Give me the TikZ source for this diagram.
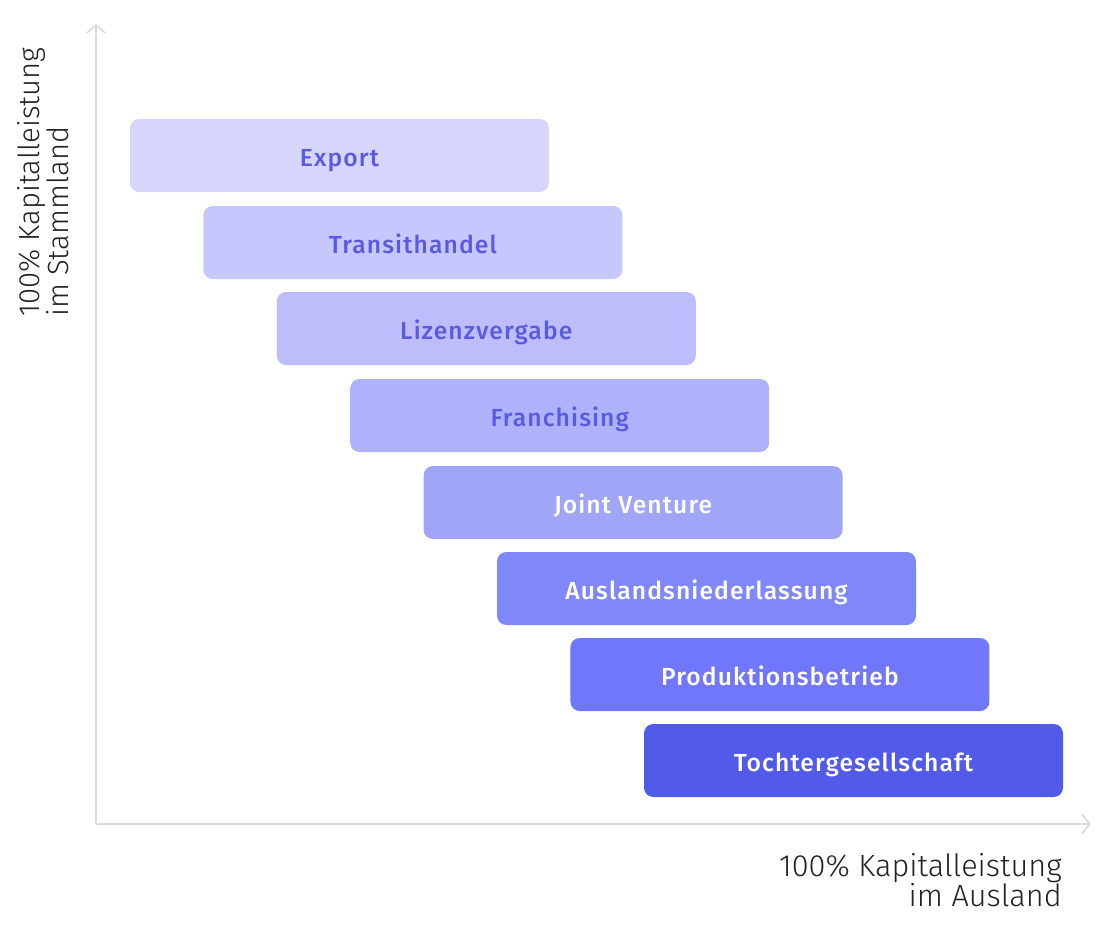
\documentclass[tikz,border=0pt]{standalone}
\usepackage{fontspec}
\setmainfont{Fira Sans Light}
\newfontfamily\boxfont[LetterSpace=4.5]{Fira Sans Medium}
\usetikzlibrary{arrows.meta}
\definecolor{axisgray}{HTML}{DADADA}
\definecolor{labeldark}{HTML}{222222}
\definecolor{txtpurple}{HTML}{5B5BE2}
\definecolor{cA}{HTML}{D6D5FC}
\definecolor{cB}{HTML}{C6C7FC}
\definecolor{cC}{HTML}{BCBDFA}
\definecolor{cD}{HTML}{AEB2FA}
\definecolor{cE}{HTML}{A0A5F8}
\definecolor{cF}{HTML}{8088F8}
\definecolor{cG}{HTML}{7077FA}
\definecolor{cH}{HTML}{525AE8}
\tikzset{
  stage/.style={rounded corners=7pt, minimum width=314.25pt, minimum height=54.75pt,
    inner sep=0pt, text height=16.5pt, text depth=0pt,
    font=\boxfont\fontsize{18.5}{22}\selectfont},
  light/.style={stage, text=txtpurple},
  dark/.style={stage, text=white},
  axis/.style={draw=axisgray, line width=1.5pt, -{Straight Barb[length=6pt,width=14pt,line width=1.2pt]}},
  axlabel/.style={inner sep=0pt, text=labeldark},
  xlabfont/.style={font=\fontsize{23}{22.5}\selectfont},
  ylabfont/.style={font=\fontsize{21.9}{19.8}\selectfont}
}
\begin{document}
\begin{tikzpicture}[x=0.75pt,y=-0.75pt]
\useasboundingbox (0,0) rectangle (1110,932);
\fill[white] (0,0) rectangle (1110,932);
\coordinate (o) at (96,824);
\coordinate (ytop) at (96,24);
\coordinate (xend) at (1091,824);
\draw[axis] (o) -- (ytop);
\draw[axis] (o) -- (xend);
\node[light, fill=cA] (export) at (339.5,155.5) {Export};
\node[light, fill=cB] (transit) at (412.9,242.5) {Transithandel};
\node[light, fill=cC] (lizenz) at (486.3,328.5) {Lizenzvergabe};
\node[light, fill=cD] (franch) at (559.7,415.5) {Franchising};
\node[dark, fill=cE] (joint) at (633.1,502.5) {Joint Venture};
\node[dark, fill=cF] (ausl) at (706.5,588.5) {Auslandsniederlassung};
\node[dark, fill=cG] (prod) at (779.9,674.5) {Produktionsbetrieb};
\node[dark, fill=cH] (tochter) at (853.5,760.5) {Tochtergesellschaft};
\node[axlabel, ylabfont, rotate=90, anchor=south west, align=left] (ylab) at (69,317) {100\% Kapitalleistung\\im Stammland};
\node[axlabel, xlabfont, anchor=north east, align=right] (xlab) at (1062,853) {100\% Kapitalleistung\\im Ausland};
\end{tikzpicture}
\end{document}
